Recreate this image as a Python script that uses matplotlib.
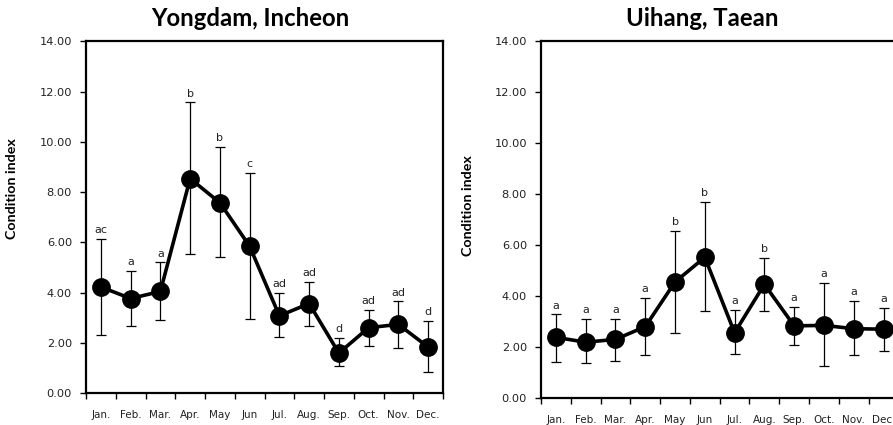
import numpy as np
import matplotlib
matplotlib.use('Agg')
import matplotlib.pyplot as plt
from matplotlib.ticker import FormatStrFormatter, FixedLocator

MONTHS = ['Jan.', 'Feb.', 'Mar.', 'Apr.', 'May', 'Jun', 'Jul.', 'Aug.',
          'Sep.', 'Oct.', 'Nov.', 'Dec.']

# Yongdam, Incheon
yd_mean = [4.23, 3.77, 4.05, 8.54, 7.58, 5.85, 3.08, 3.57, 1.60, 2.61, 2.74, 1.84]
yd_hi   = [6.15, 4.87, 5.21, 11.57, 9.79, 8.76, 4.00, 4.44, 2.19, 3.31, 3.66, 2.89]
yd_lo   = [2.31, 2.66, 2.93, 5.56, 5.42, 2.96, 2.24, 2.66, 1.07, 1.88, 1.80, 0.85]
yd_grp  = ['ac', 'a', 'a', 'b', 'b', 'c', 'ad', 'ad', 'd', 'ad', 'ad', 'd']

# Uihang, Taean
uh_mean = [2.39, 2.20, 2.31, 2.81, 4.56, 5.53, 2.57, 4.47, 2.84, 2.86, 2.73, 2.71]
uh_hi   = [3.29, 3.10, 3.12, 3.95, 6.57, 7.69, 3.46, 5.51, 3.59, 4.51, 3.83, 3.55]
uh_lo   = [1.44, 1.40, 1.47, 1.70, 2.55, 3.44, 1.74, 3.44, 2.08, 1.28, 1.70, 1.86]
uh_grp  = ['a', 'a', 'a', 'a', 'b', 'b', 'a', 'b', 'a', 'a', 'a', 'a']

TICK_FONT = 'DejaVu Sans'
BOLD_FONT = 'Lato'


def panel(ax, mean, hi, lo, grp, label_xy):
    x = np.arange(len(mean))
    mean = np.array(mean); hi = np.array(hi); lo = np.array(lo)
    ax.errorbar(x, mean, yerr=[mean - lo, hi - mean], fmt='none',
                ecolor='black', elinewidth=0.9, capsize=3.5, capthick=0.9,
                zorder=2)
    ax.plot(x, mean, color='black', lw=2.6, marker='o', ms=12.5, zorder=3)
    for xi, top, g in zip(x, hi, grp):
        ax.text(xi, top + 0.15, g, ha='center', va='bottom', fontsize=8,
                family=TICK_FONT, color='#222222')
    ax.set_xlim(-0.5, len(mean) - 0.5)
    ax.set_ylim(0, 14)
    ax.set_yticks(np.arange(0, 14.1, 2))
    ax.yaxis.set_major_formatter(FormatStrFormatter('%.2f'))
    ax.set_xticks(x)
    ax.set_xticklabels(MONTHS)
    ax.xaxis.set_minor_locator(FixedLocator(np.arange(-0.5, len(mean), 1)))
    ax.tick_params(axis='x', which='major', length=0, pad=12)
    ax.tick_params(axis='x', which='minor', length=4, width=1)
    ax.tick_params(axis='y', length=4, width=1, pad=6)
    for lab in ax.get_xticklabels():
        lab.set_fontsize(7.5)
        lab.set_family(TICK_FONT)
        lab.set_color('#222222')
    for lab in ax.get_yticklabels():
        lab.set_fontsize(8.2)
        lab.set_family(TICK_FONT)
        lab.set_color('#222222')
    for sp in ax.spines.values():
        sp.set_linewidth(1.6)
    ax.set_ylabel('Condition index', fontsize=10.3, fontweight='bold',
                  family=BOLD_FONT)
    ax.yaxis.set_label_coords(*label_xy)


fig = plt.figure(figsize=(8.93, 4.25), dpi=100)
ax1 = fig.add_axes([86 / 893, 31.7 / 425, 357 / 893, 352 / 425])
ax2 = fig.add_axes([541 / 893, 26.7 / 425, 357.4 / 893, 357 / 425])

panel(ax1, yd_mean, yd_hi, yd_lo, yd_grp, (-0.190, 0.583))
panel(ax2, uh_mean, uh_hi, uh_lo, uh_grp, (-0.188, 0.541))

fig.text(250 / 893, 1 - 18 / 425, 'Yongdam, Incheon', ha='center',
         va='center', fontsize=17.2, fontweight='bold', family=BOLD_FONT)
fig.text(702 / 893, 1 - 18 / 425, 'Uihang, Taean', ha='center',
         va='center', fontsize=17.2, fontweight='bold', family=BOLD_FONT)

fig.savefig('out.png', dpi=100, facecolor='white')
